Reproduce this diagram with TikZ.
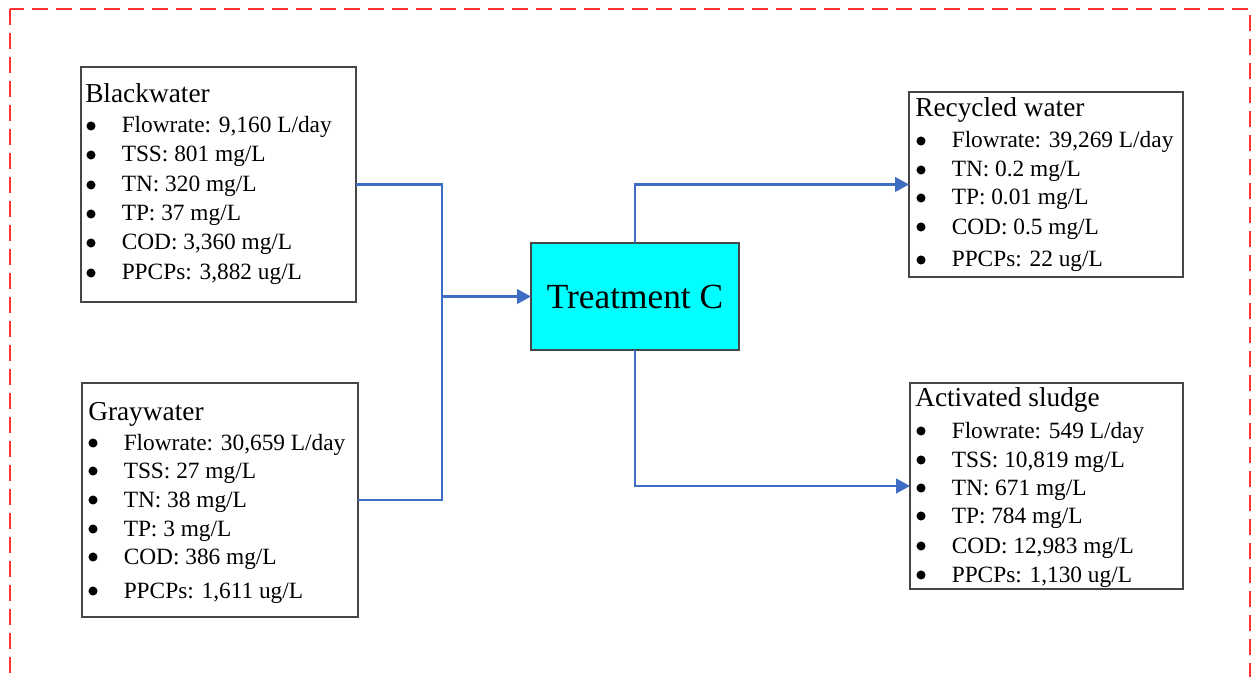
\documentclass[tikz,border=0pt]{standalone}
\usepackage{fontspec}
\setmainfont{Liberation Serif}
\usetikzlibrary{arrows.meta}

\definecolor{flowblue}{RGB}{62,110,196}
\definecolor{frame}{RGB}{255,50,50}
\definecolor{boxgray}{RGB}{70,70,70}
\definecolor{treatcyan}{RGB}{0,255,255}

\tikzset{
  databox/.style={draw=boxgray, line width=1.1pt, fill=white, rectangle,
    inner sep=0pt, outer sep=0pt, anchor=north west},
  treatbox/.style={databox, fill=treatcyan, anchor=center},
  heading/.style={anchor=base west, inner sep=0pt, font=\fontsize{20.5pt}{24pt}\selectfont},
  entry/.style={anchor=base west, inner sep=0pt, font=\fontsize{17.5pt}{21pt}\selectfont},
  dot/.style={fill=black},
  flow/.style={draw=flowblue, line width=1.7pt},
  flowarrow/.style={flow, -{Triangle[length=10.5pt,width=11pt]}},
  outerframe/.style={draw=frame, line width=1.6pt, dash pattern=on 12pt off 6pt},
}

% one bulleted line of a data box: name, x of bullet, y of baseline, text
\newcommand\entryline[4]{%
  \fill[dot] (#2+5,#3-7) circle (3.4pt);
  \node[entry] (#1) at (#2+35.5,#3) {#4};}

\begin{document}
\begin{tikzpicture}[x=0.75pt,y=-0.75pt]
\useasboundingbox (0,0) rectangle (1252,677);

% dashed system boundary
\begin{scope}
\clip (0,0) rectangle (1252,677);
\draw[outerframe] (10,9) rectangle (1250,720);
\end{scope}

% boxes
\node[databox, minimum width=206.25pt, minimum height=176.25pt] (black) at (81,67) {};
\node[databox, minimum width=207pt, minimum height=175.5pt] (gray) at (82,383) {};
\node[treatbox, minimum width=156pt, minimum height=80.25pt,
      font=\fontsize{26.5pt}{30pt}\selectfont] (treat) at (635,296.5) {Treatment C};
\node[databox, minimum width=205.5pt, minimum height=138.75pt] (recyc) at (909,92) {};
\node[databox, minimum width=204.75pt, minimum height=154.5pt] (sludge) at (910,383) {};

% Blackwater
\node[heading] (black-title) at (85,103) {Blackwater};
\entryline{black-1}{86}{133}{Flowrate: 9,160 L/day}
\entryline{black-2}{86}{162}{TSS: 801 mg/L}
\entryline{black-3}{86}{192}{TN: 320 mg/L}
\entryline{black-4}{86}{221}{TP: 37 mg/L}
\entryline{black-5}{86}{250}{COD: 3,360 mg/L}
\entryline{black-6}{86}{280}{PPCPs: 3,882 ug/L}

% Graywater
\node[heading] (gray-title) at (88,420) {Graywater};
\entryline{gray-1}{88}{450}{Flowrate: 30,659 L/day}
\entryline{gray-2}{88}{478}{TSS: 27 mg/L}
\entryline{gray-3}{88}{507}{TN: 38 mg/L}
\entryline{gray-4}{88}{536}{TP: 3 mg/L}
\entryline{gray-5}{88}{564}{COD: 386 mg/L}
\entryline{gray-6}{88}{598}{PPCPs: 1,611 ug/L}

% Recycled water
\node[heading] (recyc-title) at (915,117) {Recycled water};
\entryline{recyc-1}{916}{148}{Flowrate: 39,269 L/day}
\entryline{recyc-2}{916}{177}{TN: 0.2 mg/L}
\entryline{recyc-3}{916}{205}{TP: 0.01 mg/L}
\entryline{recyc-4}{916}{234}{COD: 0.5 mg/L}
\entryline{recyc-5}{916}{267}{PPCPs: 22 ug/L}

% Activated sludge
\node[heading] (sludge-title) at (915,406) {Activated sludge};
\entryline{sludge-1}{916}{438}{Flowrate: 549 L/day}
\entryline{sludge-2}{916}{467}{TSS: 10,819 mg/L}
\entryline{sludge-3}{916}{495}{TN: 671 mg/L}
\entryline{sludge-4}{916}{523}{TP: 784 mg/L}
\entryline{sludge-5}{916}{553}{COD: 12,983 mg/L}
\entryline{sludge-6}{916}{582}{PPCPs: 1,130 ug/L}

% connectors
\coordinate (merge) at (442,296.5);
\draw[flow] (black.east) -| (merge);
\draw[flow] (gray.east) -| (merge);
\draw[flowarrow] (merge) -- (treat.west);
\draw[flowarrow] (treat.north) |- (recyc.west);
\draw[flowarrow] (treat.south) |- (sludge.west);
\end{tikzpicture}
\end{document}
